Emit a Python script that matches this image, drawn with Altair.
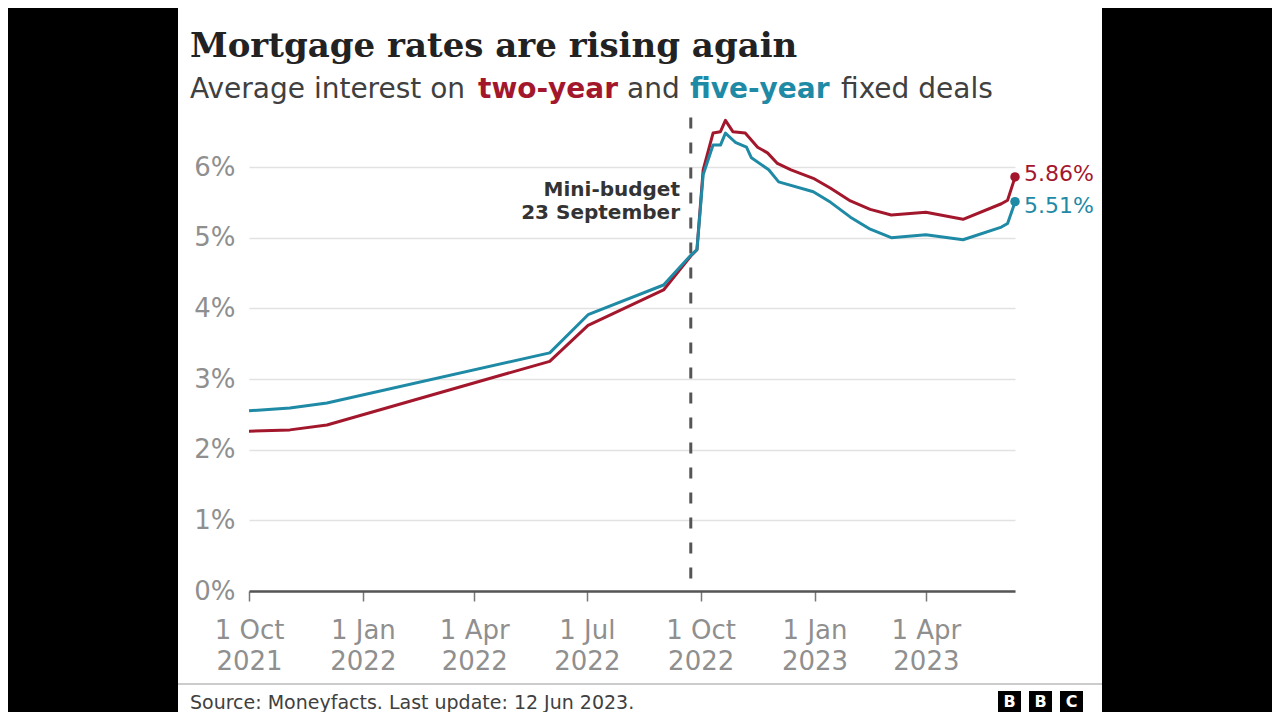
import altair as alt
import pandas as pd

# ---------------- data ----------------
two_dates = ["2021-10-01", "2021-11-03", "2021-12-03", "2022-06-01", "2022-07-02", "2022-09-01",
             "2022-09-23", "2022-09-28", "2022-10-03", "2022-10-11", "2022-10-17", "2022-10-21",
             "2022-10-27", "2022-11-06", "2022-11-16", "2022-11-24", "2022-12-02", "2022-12-13",
             "2022-12-31", "2023-01-14", "2023-01-30", "2023-02-15", "2023-03-04", "2023-04-01",
             "2023-05-01", "2023-06-01", "2023-06-06", "2023-06-11", "2023-06-12"]
two_vals = [2.26, 2.28, 2.35, 3.25, 3.76, 4.26,
            4.74, 4.83, 5.96, 6.48, 6.50, 6.66,
            6.50, 6.48, 6.28, 6.20, 6.05, 5.96,
            5.84, 5.70, 5.52, 5.40, 5.32, 5.36,
            5.26, 5.48, 5.53, 5.80, 5.86]

five_dates = ["2021-10-01", "2021-11-03", "2021-12-03", "2022-06-01", "2022-07-02", "2022-09-01",
              "2022-09-23", "2022-09-28", "2022-10-03", "2022-10-11", "2022-10-17", "2022-10-21",
              "2022-10-29", "2022-11-07", "2022-11-11", "2022-11-25", "2022-12-03", "2022-12-31",
              "2023-01-14", "2023-01-30", "2023-02-15", "2023-03-04", "2023-04-01", "2023-05-01",
              "2023-06-01", "2023-06-06", "2023-06-11", "2023-06-12"]
five_vals = [2.55, 2.59, 2.66, 3.37, 3.91, 4.33,
             4.75, 4.83, 5.89, 6.31, 6.31, 6.48,
             6.35, 6.28, 6.13, 5.96, 5.79, 5.65,
             5.50, 5.29, 5.12, 5.00, 5.04, 4.97,
             5.15, 5.20, 5.45, 5.51]

series_names = ["two-year", "five-year"]
series_colors = ["#a3172d", "#1f8aa5"]
end_labels = ["5.86%", "5.51%"]

y_ticks = [0, 1, 2, 3, 4, 5, 6]
x_ticks = ["2021-10-01", "2022-01-01", "2022-04-01", "2022-07-01", "2022-10-01", "2023-01-01", "2023-04-01"]
x_domain = ["2021-10-01", "2023-06-12"]

event_date = "2022-09-23"
event_top = 6.7
event_lines = ["Mini-budget", "23 September"]

title_text = "Mortgage rates are rising again"
subtitle_parts = ["Average interest on", "two-year", "and", "five-year", "fixed deals"]
source_text = "Source: Moneyfacts. Last update: 12 Jun 2023."
logo_letters = ["B", "B", "C"]

# ---------------- helpers ----------------
def dt(s):
    y, m, d = (int(p) for p in s.split("-"))
    return alt.DateTime(year=y, month=m, date=d)

RED, TEAL = series_colors
GREY_TXT = "#404040"
AXIS_TXT = "#8f8f8f"
SANS = "DejaVu Sans"

df = pd.concat([
    pd.DataFrame({"date": pd.to_datetime(two_dates), "rate": two_vals, "series": series_names[0]}),
    pd.DataFrame({"date": pd.to_datetime(five_dates), "rate": five_vals, "series": series_names[1]}),
])
last = df.groupby("series", sort=False).tail(1).reset_index(drop=True)
last["label"] = end_labels

W, H = 766, 424

x_enc = alt.X("date:T",
              scale=alt.Scale(domain=[dt(x_domain[0]), dt(x_domain[1])], nice=False),
              axis=alt.Axis(values=[dt(v) for v in x_ticks], title=None, grid=False,
                            domain=True, domainColor="#555555", domainWidth=2.5,
                            ticks=True, tickColor="#777777", tickWidth=1.5, tickSize=10,
                            labelExpr="[timeFormat(datum.value, '%-d %b'), timeFormat(datum.value, '%Y')]",
                            labelFont=SANS, labelFontSize=26, labelColor=AXIS_TXT,
                            labelLineHeight=31, labelPadding=16, labelBaseline="top",
                            labelFlush=False, labelOverlap=False))
y_enc = alt.Y("rate:Q",
              scale=alt.Scale(domain=[0, 6], nice=False, zero=True),
              axis=alt.Axis(values=y_ticks, title=None, grid=True, gridColor="#e2e2e2",
                            gridWidth=1.6, domain=False, ticks=False,
                            labelExpr="datum.value + '%'", labelFont=SANS, labelFontSize=26,
                            labelColor=AXIS_TXT, labelPadding=14))

color_enc = alt.Color("series:N", scale=alt.Scale(domain=series_names, range=series_colors), legend=None)

lines = alt.Chart(df).mark_line(strokeWidth=3, strokeJoin="round").encode(
    x=x_enc, y=y_enc, color=color_enc, order=alt.Order("date:T"))

dots = alt.Chart(last).mark_circle(size=90, opacity=1).encode(
    x="date:T", y="rate:Q", color=color_enc)

lab_two = alt.Chart(last.iloc[[0]]).mark_text(
    align="left", baseline="middle", dx=9, dy=-3, font=SANS, fontSize=22, color=RED
).encode(x="date:T", y="rate:Q", text="label:N")
lab_five = alt.Chart(last.iloc[[1]]).mark_text(
    align="left", baseline="middle", dx=9, dy=4, font=SANS, fontSize=22, color=TEAL
).encode(x="date:T", y="rate:Q", text="label:N")

event_df = pd.DataFrame({"date": pd.to_datetime([event_date]), "y0": [0.0], "y1": [event_top]})
event_rule = alt.Chart(event_df).mark_rule(color="#555555", strokeWidth=3, strokeDash=[11, 14]).encode(
    x="date:T", y="y1:Q", y2="y0:Q")

ann = alt.Chart(pd.DataFrame({"t": [event_lines]})).mark_text(
    align="right", baseline="middle", font=SANS, fontSize=20, fontWeight="bold",
    color="#333333", lineHeight=23
).encode(x=alt.value(431), y=alt.value(23), text="t:N")

# ---- layout / decoration layers (pixel positions relative to plot origin) ----
one = pd.DataFrame({"k": [0]})

side_left = alt.Chart(one).mark_rect(color="black").encode(
    x=alt.value(-241), x2=alt.value(-71), y=alt.value(-159), y2=alt.value(545))
side_right = alt.Chart(one).mark_rect(color="black").encode(
    x=alt.value(853), x2=alt.value(1023), y=alt.value(-159), y2=alt.value(545))

title = alt.Chart(one).mark_text(
    text=title_text, align="left", baseline="alphabetic", font="DejaVu Serif",
    fontSize=34, fontWeight="bold", color="#222222"
).encode(x=alt.value(-59), y=alt.value(-110))

sub_x = [-59, 229, 378, 441, 592]
sub_colors = [GREY_TXT, RED, GREY_TXT, TEAL, GREY_TXT]
sub_weights = ["normal", "bold", "normal", "bold", "normal"]
subs = []
for t, sx, c, w in zip(subtitle_parts, sub_x, sub_colors, sub_weights):
    subs.append(alt.Chart(one).mark_text(
        text=t, align="left", baseline="alphabetic", font=SANS, fontSize=28,
        fontWeight=w, color=c
    ).encode(x=alt.value(sx), y=alt.value(-69)))

sep = alt.Chart(one).mark_rule(color="#cccccc", strokeWidth=2).encode(
    x=alt.value(-71), x2=alt.value(853), y=alt.value(517))

source = alt.Chart(one).mark_text(
    text=source_text, align="left", baseline="middle", font=SANS, fontSize=19, color=GREY_TXT
).encode(x=alt.value(-59), y=alt.value(536))

logo_df = pd.DataFrame({"letter": logo_letters, "i": list(range(len(logo_letters)))})
logo_box = alt.Chart(logo_df).mark_rect(color="black").transform_calculate(
    x0="749 + datum.i * 31", x1="772 + datum.i * 31"
).encode(x=alt.X("x0:Q", scale=None), x2="x1:Q", y=alt.value(524), y2=alt.value(546))
logo_txt = alt.Chart(logo_df).mark_text(
    align="center", baseline="middle", font=SANS, fontSize=16, fontWeight="bold", color="white"
).transform_calculate(xc="760.5 + datum.i * 31").encode(
    x=alt.X("xc:Q", scale=None), y=alt.value(535), text="letter:N")

chart = alt.layer(
    side_left, side_right, event_rule, lines, dots, lab_two, lab_five, ann,
    title, *subs, sep, source, logo_box, logo_txt
).properties(
    width=W, height=H,
    padding={"left": 241, "top": 159, "right": 257, "bottom": 121},
    autosize=alt.AutoSizeParams(type="none"),
    background="white",
).configure_view(stroke=None)

chart.save("out.html", embed_options={"renderer": "svg", "actions": False})
